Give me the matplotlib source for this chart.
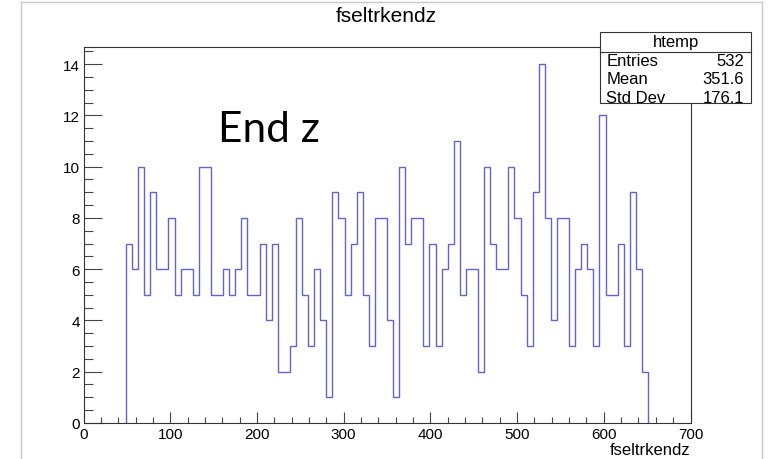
import numpy as np
import matplotlib
matplotlib.use("Agg")
import matplotlib.pyplot as plt
from matplotlib.lines import Line2D
from matplotlib.patches import Rectangle
from matplotlib.ticker import MultipleLocator

plt.rcParams['font.family'] = ['Liberation Sans', 'DejaVu Sans']

# fseltrkendz histogram (100 bins of width 7 over 0..700, non-empty from 49 to 651)
bin_lo = 49
bin_width = 7
bin_counts = [7, 6, 10, 5, 9, 6, 6, 8, 5, 6, 6, 5, 10, 10, 5, 5, 6, 5, 6, 8, 5, 5,
              7, 4, 7, 2, 2, 3, 8, 5, 3, 6, 4, 1, 9, 8, 5, 7, 9, 5, 3, 8, 8, 4, 1,
              10, 7, 8, 8, 3, 7, 3, 6, 7, 11, 5, 6, 6, 2, 10, 7, 6, 6, 10, 8, 5, 3, 9, 14,
              8, 4, 8, 8, 3, 6, 7, 6, 3, 12, 5, 5, 7, 3, 9, 6, 2]
stat_labels = ["Entries", "Mean", "Std Dev"]
stat_values = ["532", "351.6", "176.1"]

W, H = 772, 460
fig = plt.figure(figsize=(W / 100, H / 100), dpi=100)
fig.patch.set_facecolor('white')

# plot frame
ax = fig.add_axes([83.5 / W, 1 - 423.8 / H, 607 / W, 375.5 / H])
edges = bin_lo + bin_width * np.arange(len(bin_counts) + 1)
ax.stairs(bin_counts, edges, baseline=0, color='#6262d0', linewidth=1.0)

ax.set_xlim(0, 700)
ax.set_ylim(0, 14.66)
ax.xaxis.set_major_locator(MultipleLocator(100))
ax.xaxis.set_minor_locator(MultipleLocator(20))
ax.yaxis.set_major_locator(MultipleLocator(2))
ax.yaxis.set_minor_locator(MultipleLocator(0.5))
ax.tick_params(axis='x', which='major', direction='in', length=8, width=0.8,
               color='#444444', labelsize=11, pad=3)
ax.tick_params(axis='x', which='minor', direction='in', length=4.3, width=0.8,
               color='#444444')
ax.tick_params(axis='y', which='major', direction='in', length=13, width=0.8,
               color='#444444', labelsize=11, pad=2.5)
ax.tick_params(axis='y', which='minor', direction='in', length=6.5, width=0.8,
               color='#444444')
for s in ax.spines.values():
    s.set_linewidth(0.8)
    s.set_color('#333333')

# title and axis label
fig.text(386 / W, 1 - 17 / H, "fseltrkendz", ha='center', va='center', fontsize=15)
fig.text(690 / W, 1 - 451 / H, "fseltrkendz", ha='right', va='center', fontsize=12)

# annotation
fig.text(218 / W, 1 - 141.7 / H, "End z", ha='left', va='baseline',
         fontsize=30.5, family=['Lato', 'DejaVu Sans'])

# stats box
bx0, bx1, by0, by1, bsep = 600, 751, 32.7, 104, 52.7
fig.add_artist(Rectangle((bx0 / W, 1 - by1 / H), (bx1 - bx0) / W, (by1 - by0) / H,
                         transform=fig.transFigure, facecolor='white',
                         edgecolor='#333333', linewidth=0.8, zorder=5))
fig.add_artist(Line2D([bx0 / W, bx1 / W], [1 - bsep / H, 1 - bsep / H],
                      transform=fig.transFigure, color='#333333', linewidth=0.8, zorder=6))
fig.text((bx0 + bx1) / 2 / W, 1 - 42.7 / H, "htemp", ha='center', va='center',
         fontsize=12, zorder=7)
for i, (lab, val) in enumerate(zip(stat_labels, stat_values)):
    yy = 1 - (61.7 + 18.2 * i) / H
    fig.text(606.5 / W, yy, lab, ha='left', va='center', fontsize=12, zorder=7)
    fig.text(744 / W, yy, val, ha='right', va='center', fontsize=12, zorder=7)

# screenshot border
border = '#c8c8c8'
fig.add_artist(Line2D([21 / W, 21 / W], [0, 1 - 3 / H], transform=fig.transFigure,
                      color=border, linewidth=1.0))
fig.add_artist(Line2D([762 / W, 762 / W], [0, 1 - 3 / H], transform=fig.transFigure,
                      color=border, linewidth=1.0))
fig.add_artist(Line2D([21 / W, 762 / W], [1 - 3 / H, 1 - 3 / H], transform=fig.transFigure,
                      color=border, linewidth=1.0))

fig.savefig("out.png", dpi=100)
